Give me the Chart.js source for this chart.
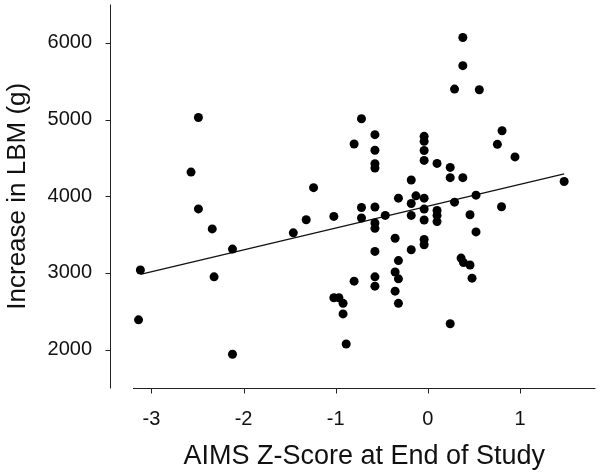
<!DOCTYPE html>
<html>
<head>
<meta charset="utf-8">
<script src="https://cdn.jsdelivr.net/npm/chart.js"></script>
<style>
  html, body { margin: 0; padding: 0; background: #fff; }
  #wrap { width: 600px; height: 475px; }
</style>
</head>
<body>
<div id="wrap"><canvas id="lbm-chart" width="600" height="475"></canvas></div>
<script>
// Values (x = AIMS z-score, y = LBM gain in g)
const zScores = [
  -3.12, -3.14, -2.49, -2.57, -2.49, -2.34, -2.32, -2.12, -2.12, -1.46,
  -1.32, -1.24, -1.02, -1.02, -0.965, -0.92, -0.92, -0.886, -0.80, -0.80,
  -0.72, -0.72, -0.72,
  -0.574, -0.574, -0.574, -0.574, -0.574, -0.574, -0.574, -0.574, -0.574, -0.574,
  -0.462,
  -0.355, -0.355, -0.355,
  -0.319, -0.319, -0.319, -0.319,
  -0.18, -0.18, -0.18, -0.18,
  -0.129,
  -0.04, -0.04, -0.04, -0.04, -0.04, -0.04, -0.04, -0.04, -0.04,
  0.10, 0.10, 0.10, 0.10,
  0.243, 0.243, 0.243,
  0.29, 0.29,
  0.38, 0.38, 0.38,
  0.361, 0.387, 0.458, 0.48, 0.458,
  0.523, 0.523, 0.559,
  0.755, 0.806, 0.80, 0.946, 1.48
];
const lbmGains = [
  3039, 2389, 5026, 4315, 3835, 3574, 2949, 3311, 1940, 3523,
  3693, 4112, 3737, 2677, 2677, 2604, 2466, 2074, 4681, 2893,
  5010, 3854, 3717,
  4803, 4600, 4423, 4367, 3860, 3652, 3582, 3281, 2949, 2828,
  3750,
  3453, 3013, 2763,
  3975, 3161, 2923, 2604,
  4212, 3905, 3750, 3303,
  4005,
  4781, 4716, 4596, 4467, 3975, 3833, 3691, 3436, 3368,
  4428, 3815, 3750, 3670,
  4376, 4242, 2337,
  5397, 3923,
  6070, 5703, 4242,
  3194, 3135, 3104, 2932, 3759,
  4014, 3535, 5388,
  4677, 4854, 3863, 4513, 4193
];

// Regression line end points, as drawn in the reference
const fitX = [-3.12, 1.48];
const fitY = [2982, 4292];

// Tick labels
const xTicks = [-3, -2, -1, 0, 1];
const yTicks = [2000, 3000, 4000, 5000, 6000];

const FONT = "'Liberation Sans', Arial, sans-serif";
const INK = '#111';

// Draws the SigmaPlot-style axes: the y axis sits apart from the x axis
const detachedAxes = {
  id: 'detachedAxes',
  afterDraw(chart) {
    const { ctx, chartArea, scales } = chart;
    const yAxisX = chartArea.left - 23 + 0.5;
    const xAxisY = Math.round(chartArea.bottom) + 0.5;
    ctx.save();
    ctx.strokeStyle = '#222';
    ctx.lineWidth = 1;
    ctx.beginPath();
    ctx.moveTo(chartArea.left, xAxisY);
    ctx.lineTo(chartArea.right, xAxisY);
    xTicks.forEach(v => {
      const px = Math.round(scales.x.getPixelForValue(v)) + 0.5;
      ctx.moveTo(px, xAxisY);
      ctx.lineTo(px, xAxisY + 5);
    });
    ctx.moveTo(yAxisX, chartArea.top);
    ctx.lineTo(yAxisX, xAxisY);
    yTicks.forEach(v => {
      const py = Math.round(scales.y.getPixelForValue(v)) + 0.5;
      ctx.moveTo(yAxisX - 5, py);
      ctx.lineTo(yAxisX, py);
    });
    ctx.stroke();
    ctx.restore();
  }
};

const points = zScores.map((z, i) => ({ x: z, y: lbmGains[i] }));
const fitLine = fitX.map((x, i) => ({ x: x, y: fitY[i] }));

new Chart(document.getElementById('lbm-chart'), {
  type: 'scatter',
  data: {
    datasets: [
      {
        data: points,
        backgroundColor: '#000',
        borderWidth: 0,
        pointRadius: 4.5,
        pointHoverRadius: 4.5
      },
      {
        type: 'line',
        data: fitLine,
        borderColor: '#111',
        borderWidth: 1.2,
        pointRadius: 0,
        fill: false
      }
    ]
  },
  options: {
    responsive: false,
    animation: false,
    layout: { padding: { top: 2, right: 0, bottom: 0, left: 0 } },
    plugins: { legend: { display: false }, tooltip: { enabled: false } },
    scales: {
      x: {
        type: 'linear',
        min: -3.2,
        max: 1.82,
        grid: { display: false },
        border: { display: false },
        afterBuildTicks: s => { s.ticks = xTicks.map(v => ({ value: v })); },
        ticks: { font: { family: FONT, size: 20 }, color: INK, padding: 11, callback: v => String(v) },
        title: {
          display: true,
          text: 'AIMS Z-Score at End of Study',
          font: { family: FONT, size: 27 },
          color: INK,
          padding: { top: 0, bottom: 2 }
        },
        afterFit: s => { s.height = 87; s.paddingLeft = 0; s.paddingRight = 0; }
      },
      y: {
        type: 'linear',
        min: 1500,
        max: 6500,
        grid: { display: false },
        border: { display: false },
        afterBuildTicks: s => { s.ticks = yTicks.map(v => ({ value: v })); },
        ticks: { font: { family: FONT, size: 20 }, color: INK, padding: 33, callback: v => String(v) },
        title: {
          display: true,
          text: 'Increase in LBM (g)',
          font: { family: FONT, size: 26 },
          color: INK,
          padding: { top: 2, bottom: 0 }
        },
        afterFit: s => { s.width = 133; s.paddingTop = 0; s.paddingBottom = 0; }
      }
    }
  },
  plugins: [detachedAxes]
});
</script>
</body>
</html>
